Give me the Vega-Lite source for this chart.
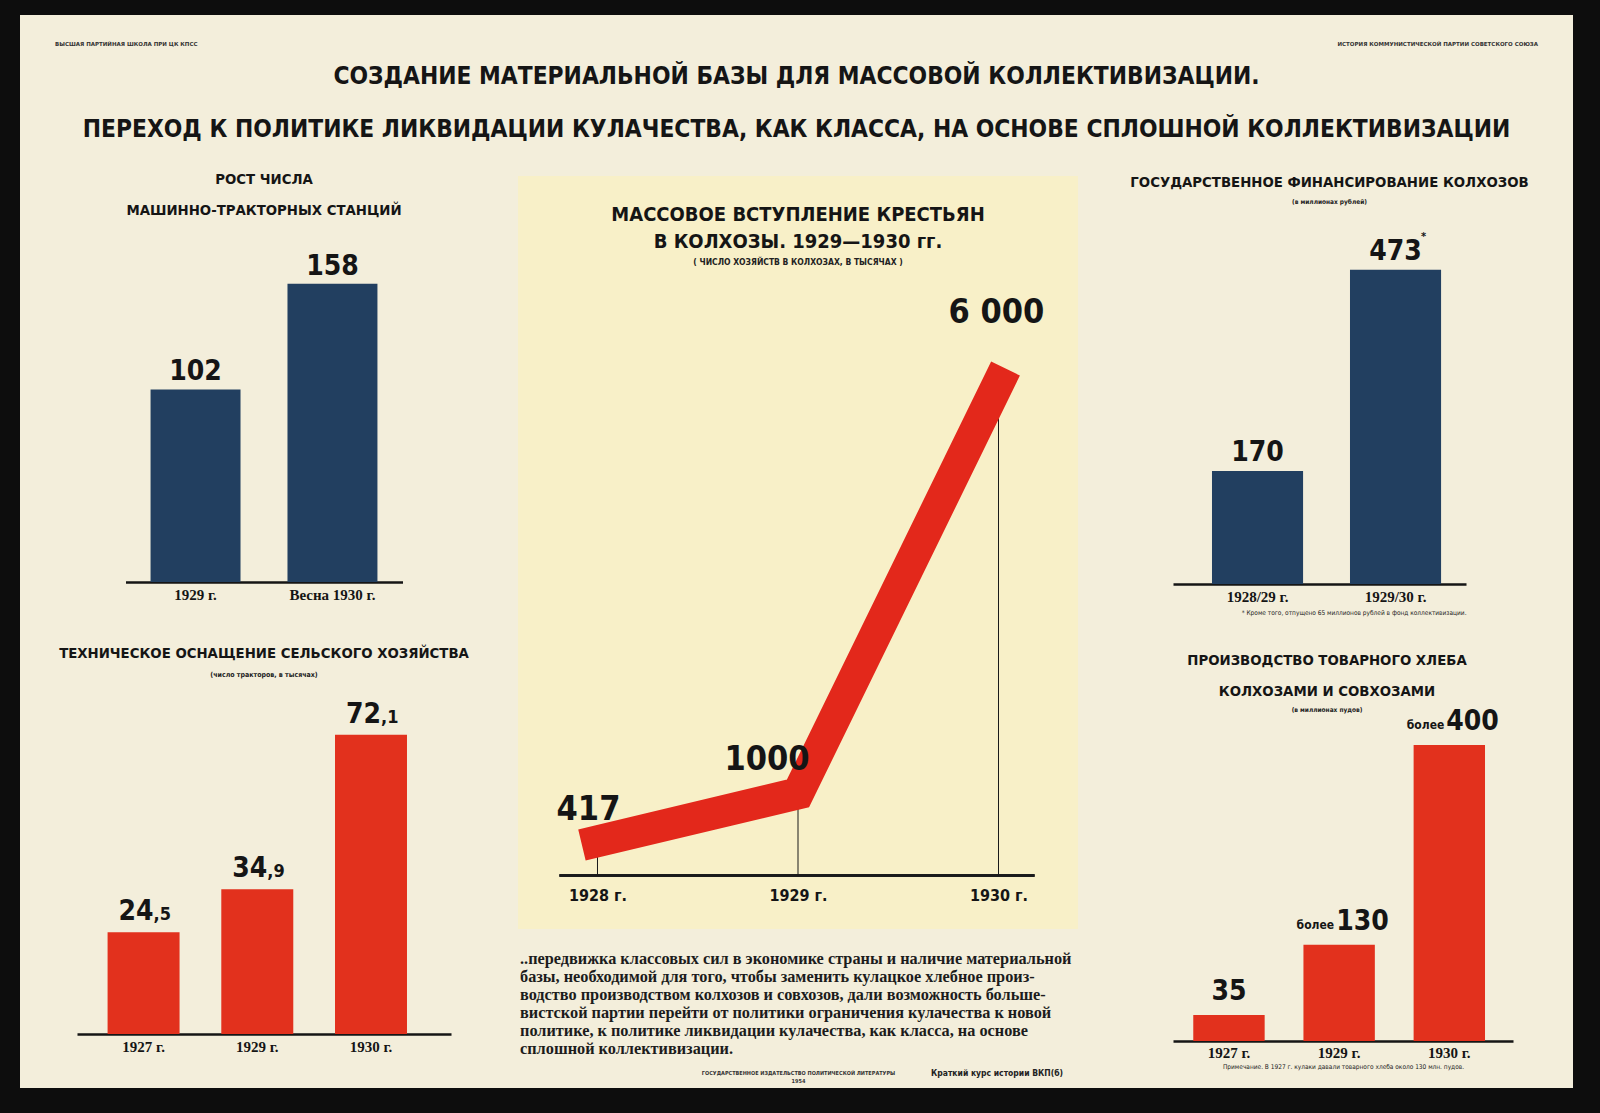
{
  "$schema": "https://vega.github.io/schema/vega-lite/v6.json",
  "background": "#f3eedb",
  "padding": 0,
  "spacing": 0,
  "config": {
    "view": {"stroke": null},
    "font": "DejaVu Sans Condensed",
    "title": {"font": "DejaVu Sans Condensed", "fontWeight": "bold", "color": "#151515", "letterSpacing": -1.1, "subtitleFont": "DejaVu Sans Condensed", "subtitleFontWeight": "bold", "subtitleColor": "#222222", "subtitleFontSize": 7, "anchor": "middle"},
    "axis": {"labelFont": "Liberation Serif", "labelFontWeight": "bold", "labelColor": "#151515", "labelFontSize": 15, "labelAngle": 0, "ticks": false, "grid": false, "domainColor": "#151515", "domainWidth": 2.5, "titleFont": "DejaVu Sans Condensed", "titleFontWeight": "normal", "titleColor": "#222222", "titleFontSize": 6.5, "labelOverlap": false},
    "text": {"font": "DejaVu Sans Condensed", "fontWeight": "bold", "color": "#151515"}
  },
  "hconcat": [
    {"width": 20, "height": 1113, "view": {"fill": "#0d0d0d", "stroke": null}, "data": {"values": []}, "mark": "rect"},
    {
      "vconcat": [
        {"width": 1553, "height": 15, "view": {"fill": "#0d0d0d", "stroke": null}, "data": {"values": []}, "mark": "rect"},
        {
          "width": 1553, "height": 43,
          "data": {"values": [
            {"side": "left", "label": "ВЫСШАЯ ПАРТИЙНАЯ ШКОЛА ПРИ ЦК КПСС"},
            {"side": "right", "label": "ИСТОРИЯ КОММУНИСТИЧЕСКОЙ ПАРТИИ СОВЕТСКОГО СОЮЗА"}
          ]},
          "encoding": {
            "x": {"field": "side", "type": "nominal", "scale": {"type": "point", "domain": ["left", "right"], "padding": 0.0236}, "axis": null},
            "text": {"field": "label"}
          },
          "layer": [
            {"transform": [{"filter": "datum.side == 'left'"}], "mark": {"type": "text", "align": "left", "dy": 7.5, "font": "DejaVu Sans", "fontWeight": "bold", "fontSize": 5.5, "color": "#333333"}},
            {"transform": [{"filter": "datum.side == 'right'"}], "mark": {"type": "text", "align": "right", "dy": 7.5, "font": "DejaVu Sans", "fontWeight": "bold", "fontSize": 5.5, "color": "#333333"}}
          ]
        },
        {
          "width": 1553, "height": 113.5,
          "data": {"values": [
            {"line": "1", "label": "СОЗДАНИЕ МАТЕРИАЛЬНОЙ БАЗЫ ДЛЯ МАССОВОЙ КОЛЛЕКТИВИЗАЦИИ."},
            {"line": "2", "label": "ПЕРЕХОД К ПОЛИТИКЕ ЛИКВИДАЦИИ КУЛАЧЕСТВА, КАК КЛАССА, НА ОСНОВЕ СПЛОШНОЙ КОЛЛЕКТИВИЗАЦИИ"}
          ]},
          "mark": {"type": "text", "fontSize": 24.3, "letterSpacing": -1.8, "baseline": "middle"},
          "encoding": {
            "y": {"field": "line", "type": "nominal", "scale": {"type": "point", "padding": 0.571, "align": 0.314}, "axis": null},
            "text": {"field": "label"}
          }
        },
        {
          "hconcat": [
            {"width": 38.5, "height": 10, "data": {"values": []}, "mark": "point"},
            {
              "vconcat": [
                {
                  "width": 277, "height": 406,
                  "title": {"text": ["РОСТ ЧИСЛА", "МАШИННО-ТРАКТОРНЫХ СТАНЦИЙ"], "fontSize": 14.8, "lineHeight": 31, "offset": -42},
                  "data": {"values": [
                    {"period": "1929 г.", "stations": 102},
                    {"period": "Весна 1930 г.", "stations": 158}
                  ]},
                  "encoding": {
                    "x": {"field": "period", "type": "nominal", "sort": null, "scale": {"paddingInner": 0.343, "paddingOuter": 0.183}, "axis": {"title": null, "labelPadding": 5}},
                    "y": {"field": "stations", "type": "quantitative", "scale": {"domain": [0, 215], "nice": false}, "axis": null}
                  },
                  "layer": [
                    {"mark": {"type": "bar", "color": "#223f60"}},
                    {"mark": {"type": "text", "baseline": "alphabetic", "dy": -9, "fontSize": 28, "letterSpacing": -2}, "encoding": {"text": {"field": "stations"}}}
                  ]
                },
                {
                  "width": 374, "height": 344,
                  "title": {"text": "ТЕХНИЧЕСКОЕ ОСНАЩЕНИЕ СЕЛЬСКОГО ХОЗЯЙСТВА", "subtitle": "(число тракторов, в тысячах)", "fontSize": 14.8, "offset": 12, "subtitlePadding": 10},
                  "data": {"values": [
                    {"year": "1927 г.", "tractors": 24.5},
                    {"year": "1929 г.", "tractors": 34.9},
                    {"year": "1930 г.", "tractors": 72.1}
                  ]},
                  "transform": [
                    {"calculate": "floor(datum.tractors)", "as": "whole"},
                    {"calculate": "',' + round((datum.tractors - floor(datum.tractors)) * 10)", "as": "frac"}
                  ],
                  "encoding": {
                    "x": {"field": "year", "type": "nominal", "sort": null, "scale": {"paddingInner": 0.367, "paddingOuter": 0.328, "align": 0.41}, "axis": {"title": null, "labelPadding": 5}},
                    "y": {"field": "tractors", "type": "quantitative", "scale": {"domain": [0, 82.9], "nice": false}, "axis": null}
                  },
                  "layer": [
                    {"mark": {"type": "bar", "color": "#e2311d"}},
                    {"mark": {"type": "text", "baseline": "alphabetic", "align": "right", "dx": 10, "dy": -12, "fontSize": 28, "letterSpacing": -2}, "encoding": {"text": {"field": "whole"}}},
                    {"mark": {"type": "text", "baseline": "alphabetic", "align": "left", "dx": 10, "dy": -12, "fontSize": 18, "letterSpacing": -1}, "encoding": {"text": {"field": "frac"}}}
                  ]
                }
              ],
              "spacing": 108,
              "center": true,
              "bounds": "flush"
            },
            {"width": 48.5, "height": 10, "data": {"values": []}, "mark": "point"},
            {
              "vconcat": [
                {
                  "width": 560, "height": 753,
                  "view": {"fill": "#f8f0c8", "stroke": null},
                  "title": {"text": ["МАССОВОЕ ВСТУПЛЕНИЕ КРЕСТЬЯН", "В КОЛХОЗЫ. 1929—1930 гг."], "subtitle": "( ЧИСЛО ХОЗЯЙСТВ В КОЛХОЗАХ, В ТЫСЯЧАХ )", "fontSize": 20, "letterSpacing": 0, "lineHeight": 27, "offset": -90, "subtitleFontSize": 8.5, "subtitlePadding": 6},
                  "data": {"values": [
                    {"year": "1928 г.", "households": 417, "label": "417"},
                    {"year": "1929 г.", "households": 1000, "label": "1000"},
                    {"year": "1930 г.", "households": 6000, "label": "6 000"}
                  ]},
                  "encoding": {
                    "x": {"field": "year", "type": "ordinal", "sort": null, "scale": {"type": "point", "padding": 0.3965}, "axis": {"title": null, "domain": false, "offset": -53.5, "labelFont": "DejaVu Sans Condensed", "labelFontSize": 16, "labelPadding": 12}},
                    "y": {"field": "households", "type": "quantitative", "scale": {"domain": [-652, 8520], "nice": false, "zero": false}, "axis": null},
                    "text": {"field": "label"}
                  },
                  "layer": [
                    {"mark": {"type": "rule", "color": "#1a1a1a", "strokeWidth": 1}, "encoding": {"y2": {"datum": 0}}},
                    {"mark": {"type": "rule", "color": "#1a1a1a", "strokeWidth": 2.5, "xOffset": -38, "x2Offset": 36},
                     "encoding": {"x": {"datum": "1928 г."}, "x2": {"datum": "1930 г."}, "y": {"datum": 0}}},
                    {"mark": {"type": "line", "color": "#e3281b", "strokeWidth": 32, "strokeCap": "square", "strokeJoin": "miter"}},
                    {"transform": [{"filter": "datum.households == 417"}], "mark": {"type": "text", "baseline": "middle", "dx": -9, "dy": -31, "fontSize": 34, "letterSpacing": -2}},
                    {"transform": [{"filter": "datum.households == 1000"}], "mark": {"type": "text", "baseline": "middle", "dx": -31, "dy": -33, "fontSize": 34, "letterSpacing": -2}},
                    {"transform": [{"filter": "datum.households == 6000"}], "mark": {"type": "text", "baseline": "middle", "dx": -2, "dy": -70, "fontSize": 34, "letterSpacing": -2}}
                  ]
                },
                {
                  "width": 560, "height": 138,
                  "title": {"text": "Краткий курс истории ВКП(б)", "orient": "bottom", "anchor": "end", "offset": -19, "dx": -15, "fontSize": 8.5, "letterSpacing": 0, "color": "#222222"},
                  "data": {"values": [
                    {"line": 1, "text": "..передвижка классовых сил в экономике страны и наличие материальной"},
                    {"line": 2, "text": "базы, необходимой для того, чтобы заменить кулацкое хлебное произ-"},
                    {"line": 3, "text": "водство производством колхозов и совхозов, дали возможность больше-"},
                    {"line": 4, "text": "вистской партии перейти от политики ограничения кулачества к новой"},
                    {"line": 5, "text": "политике, к политике ликвидации кулачества, как класса, на основе"},
                    {"line": 6, "text": "сплошной коллективизации."}
                  ]},
                  "mark": {"type": "text", "align": "left", "baseline": "middle", "dx": 2, "font": "Liberation Serif", "fontWeight": "bold", "fontSize": 16.3, "color": "#1c1c1c"},
                  "encoding": {
                    "x": {"datum": 0, "type": "quantitative", "scale": {"domain": [0, 1], "nice": false}, "axis": {"title": ["ГОСУДАРСТВЕННОЕ ИЗДАТЕЛЬСТВО ПОЛИТИЧЕСКОЙ ЛИТЕРАТУРЫ", "1954"], "domain": false, "labels": false, "offset": -20, "titleFontSize": 5.5, "titleLineHeight": 8, "titlePadding": 2, "titleFontWeight": "bold", "titleColor": "#333333"}},
                    "y": {"field": "line", "type": "quantitative", "scale": {"domain": [0.5, 8.167], "nice": false, "zero": false, "reverse": true}, "axis": null},
                    "text": {"field": "text"}
                  }
                }
              ],
              "spacing": 21,
              "bounds": "flush"
            },
            {"width": 52, "height": 10, "data": {"values": []}, "mark": "point"},
            {
              "vconcat": [
                {
                  "width": 293, "height": 408,
                  "title": {"text": "ГОСУДАРСТВЕННОЕ ФИНАНСИРОВАНИЕ КОЛХОЗОВ", "subtitle": "(в миллионах рублей)", "fontSize": 14.8, "offset": -29, "dx": 10, "subtitleFontSize": 6.5, "subtitlePadding": 9},
                  "data": {"values": [
                    {"period": "1928/29 г.", "funding": 170, "note": ""},
                    {"period": "1929/30 г.", "funding": 473, "note": "*"}
                  ]},
                  "encoding": {
                    "x": {"field": "period", "type": "nominal", "sort": null, "scale": {"paddingInner": 0.34, "paddingOuter": 0.2316, "align": 0.61}, "axis": {"title": "* Кроме того, отпущено 65 миллионов рублей  в фонд коллективизации.", "titleAnchor": "end", "titlePadding": 5, "labelPadding": 5}},
                    "y": {"field": "funding", "type": "quantitative", "scale": {"domain": [0, 614], "nice": false}, "axis": null}
                  },
                  "layer": [
                    {"mark": {"type": "bar", "color": "#223f60"}},
                    {"mark": {"type": "text", "baseline": "alphabetic", "dy": -10, "fontSize": 28, "letterSpacing": -2}, "encoding": {"text": {"field": "funding"}}},
                    {"mark": {"type": "text", "baseline": "alphabetic", "dx": 28, "dy": -30, "fontSize": 11}, "encoding": {"text": {"field": "note"}}}
                  ]
                },
                {
                  "width": 340, "height": 316,
                  "title": {"text": ["ПРОИЗВОДСТВО ТОВАРНОГО ХЛЕБА", "КОЛХОЗАМИ И СОВХОЗАМИ"], "subtitle": "(в миллионах пудов)", "fontSize": 14.8, "lineHeight": 31, "offset": -6, "dx": -16, "subtitleFontSize": 6.5, "subtitlePadding": 9},
                  "data": {"values": [
                    {"year": "1927 г.", "grain": 35, "prefix": ""},
                    {"year": "1929 г.", "grain": 130, "prefix": "более"},
                    {"year": "1930 г.", "grain": 400, "prefix": "более"}
                  ]},
                  "encoding": {
                    "x": {"field": "year", "type": "nominal", "sort": null, "scale": {"paddingInner": 0.352, "paddingOuter": 0.219, "align": 0.42}, "axis": {"title": "Примечание. В 1927 г. кулаки давали товарного хлеба около 130 млн. пудов.", "titlePadding": 3, "labelPadding": 4}},
                    "y": {"field": "grain", "type": "quantitative", "scale": {"domain": [0, 427], "nice": false}, "axis": null}
                  },
                  "layer": [
                    {"mark": {"type": "bar", "color": "#e2311d"}},
                    {"transform": [{"filter": "datum.prefix == ''"}], "mark": {"type": "text", "baseline": "alphabetic", "dy": -15, "fontSize": 28, "letterSpacing": -2}, "encoding": {"text": {"field": "grain"}}},
                    {"transform": [{"filter": "datum.prefix != ''"}], "mark": {"type": "text", "align": "left", "baseline": "alphabetic", "dx": -3, "dy": -15, "fontSize": 28, "letterSpacing": -2}, "encoding": {"text": {"field": "grain"}}},
                    {"transform": [{"filter": "datum.prefix != ''"}], "mark": {"type": "text", "align": "right", "baseline": "alphabetic", "dx": -5, "dy": -16, "fontSize": 12}, "encoding": {"text": {"field": "prefix"}}}
                  ]
                }
              ],
              "spacing": 141,
              "bounds": "flush"
            }
          ],
          "spacing": 0
        },
        {"width": 1553, "height": 25, "view": {"fill": "#0d0d0d", "stroke": null}, "data": {"values": []}, "mark": "rect"}
      ],
      "spacing": 0
    },
    {"width": 27, "height": 1113, "view": {"fill": "#0d0d0d", "stroke": null}, "data": {"values": []}, "mark": "rect"}
  ]
}
